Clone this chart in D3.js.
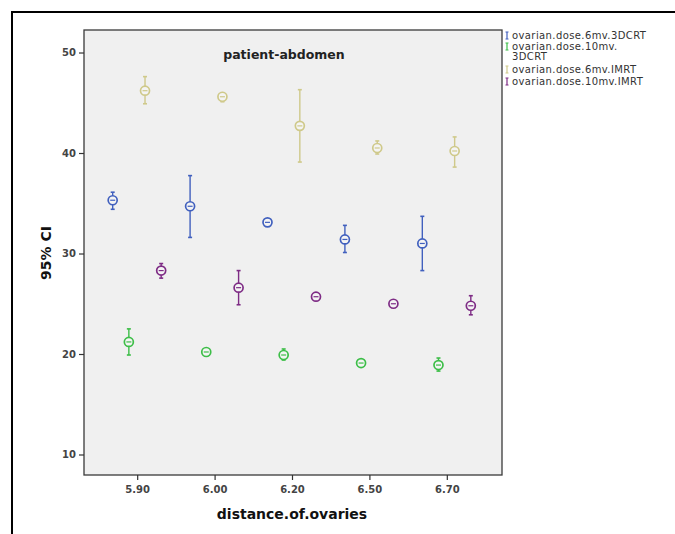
<!DOCTYPE html>
<html>
<head>
<meta charset="utf-8">
<script src="https://cdn.jsdelivr.net/npm/d3@7/dist/d3.min.js"></script>
<style>
  html, body { margin: 0; padding: 0; background: #fff; }
  svg { display: block; }
</style>
</head>
<body>
<svg id="chart" width="675" height="534"></svg>
<script>
// ---- data ----
const categories = ["5.90", "6.00", "6.20", "6.50", "6.70"];
const seriesNames = ["ovarian.dose.6mv.3DCRT", "ovarian.dose.10mv.\n3DCRT", "ovarian.dose.6mv.IMRT", "ovarian.dose.10mv.IMRT"];
const seriesColors = ["#4160BE", "#3DBE48", "#CFC98A", "#7E2C85"];
// means
const mean6mv3D   = [35.3, 34.7, 33.1, 31.4, 31.0];
const mean10mv3D  = [21.2, 20.2, 19.9, 19.1, 18.9];
const mean6mvIM   = [46.2, 45.6, 42.7, 40.5, 40.2];
const mean10mvIM  = [28.3, 26.6, 25.7, 25.0, 24.8];
// lower CI
const lo6mv3D   = [34.4, 31.6, 32.9, 30.1, 28.3];
const lo10mv3D  = [19.9, 20.0, 19.4, 18.95, 18.3];
const lo6mvIM   = [44.9, 45.1, 39.1, 39.9, 38.6];
const lo10mvIM  = [27.55, 24.9, 25.5, 24.85, 23.9];
// upper CI
const hi6mv3D   = [36.1, 37.75, 33.3, 32.8, 33.7];
const hi10mv3D  = [22.5, 20.4, 20.5, 19.25, 19.6];
const hi6mvIM   = [47.6, 46.0, 46.3, 41.2, 41.6];
const hi10mvIM  = [29.0, 28.3, 25.9, 25.2, 25.8];
const yTicks = [10, 20, 30, 40, 50];

const means = [mean6mv3D, mean10mv3D, mean6mvIM, mean10mvIM];
const lows  = [lo6mv3D, lo10mv3D, lo6mvIM, lo10mvIM];
const highs = [hi6mv3D, hi10mv3D, hi6mvIM, hi10mvIM];

const svg = d3.select("#chart");

// outer frame
svg.append("path")
  .attr("d", "M12,534 L12,12 L675,12")
  .attr("fill", "none").attr("stroke", "#000").attr("stroke-width", 2);

const plot = { left: 84, top: 30, right: 502, bottom: 475 };

const x = d3.scalePoint().domain(categories).range([plot.left - 1, plot.right - 1]).padding(0.7);
const xs = d3.scalePoint().domain(d3.range(4)).range([-24.5, 24]);
const y = d3.scaleLinear().domain([7.96, 52.24]).range([plot.bottom, plot.top]);

// plot background
svg.append("rect")
  .attr("x", plot.left).attr("y", plot.top)
  .attr("width", plot.right - plot.left).attr("height", plot.bottom - plot.top)
  .attr("fill", "#F0F0F0").attr("stroke", "#3a3a3a").attr("stroke-width", 1.3);

// axes
const yAxis = d3.axisLeft(y).tickValues(yTicks).tickSize(5).tickPadding(3).tickFormat(d3.format("d"));
const gy = svg.append("g").attr("transform", `translate(${plot.left},0)`).call(yAxis);
const xAxis = d3.axisBottom(x).tickSize(5).tickPadding(6);
const gx = svg.append("g").attr("transform", `translate(0,${plot.bottom})`).call(xAxis);
[gx, gy].forEach(g => {
  g.select(".domain").remove();
  g.selectAll(".tick line").attr("stroke", "#333").attr("stroke-width", 1.2);
  g.selectAll(".tick text").attr("fill", "#444").attr("font-family", "DejaVu Sans")
    .attr("font-weight", "bold").attr("font-size", "10px");
});

// axis titles
svg.append("text").attr("x", 292).attr("y", 519).attr("text-anchor", "middle")
  .attr("font-family", "DejaVu Sans").attr("font-weight", "bold").attr("font-size", "14px")
  .attr("fill", "#111").text("distance.of.ovaries");
svg.append("text").attr("transform", "translate(51,253) rotate(-90)").attr("text-anchor", "middle")
  .attr("font-family", "DejaVu Sans").attr("font-weight", "bold").attr("font-size", "14px")
  .attr("fill", "#111").text("95% CI");

// chart title
svg.append("text").attr("x", 284).attr("y", 59).attr("text-anchor", "middle")
  .attr("font-family", "DejaVu Sans").attr("font-weight", "bold").attr("font-size", "12.5px")
  .attr("fill", "#222").text("patient-abdomen");

// error bars
means.forEach((vals, s) => {
  const col = seriesColors[s];
  const g = svg.append("g");
  categories.forEach((c, i) => {
    const cx = x(c) + xs(s);
    g.append("line").attr("x1", cx).attr("x2", cx)
      .attr("y1", y(lows[s][i])).attr("y2", y(highs[s][i]))
      .attr("stroke", col).attr("stroke-width", 1.4);
    [lows[s][i], highs[s][i]].forEach(v => {
      g.append("line").attr("x1", cx - 2).attr("x2", cx + 2)
        .attr("y1", y(v)).attr("y2", y(v)).attr("stroke", col).attr("stroke-width", 1.6);
    });
    g.append("circle").attr("cx", cx).attr("cy", y(vals[i])).attr("r", 4.5)
      .attr("fill", "#F4F4F4").attr("stroke", col).attr("stroke-width", 1.7);
    g.append("line").attr("x1", cx - 2.5).attr("x2", cx + 2.5)
      .attr("y1", y(vals[i])).attr("y2", y(vals[i])).attr("stroke", col).attr("stroke-width", 1.2);
  });
});

// legend
const legendRows = [39, 50, 73, 85];
seriesNames.forEach((name, s) => {
  const ly = legendRows[s];
  const col = seriesColors[s];
  const lines = name.split("\n");
  const g = svg.append("g");
  g.append("line").attr("x1", 507).attr("x2", 507).attr("y1", ly - 7).attr("y2", ly).attr("stroke", col).attr("stroke-width", 1.2);
  g.append("line").attr("x1", 505.5).attr("x2", 508.5).attr("y1", ly - 7).attr("y2", ly - 7).attr("stroke", col).attr("stroke-width", 1);
  g.append("line").attr("x1", 505.5).attr("x2", 508.5).attr("y1", ly).attr("y2", ly).attr("stroke", col).attr("stroke-width", 1);
  lines.forEach((t, k) => {
    g.append("text").attr("x", 512).attr("y", ly + k * 10)
      .attr("font-family", "DejaVu Sans").attr("font-size", "10px").attr("letter-spacing", "0.4px")
      .attr("fill", "#333").text(t);
  });
});
</script>
</body>
</html>
